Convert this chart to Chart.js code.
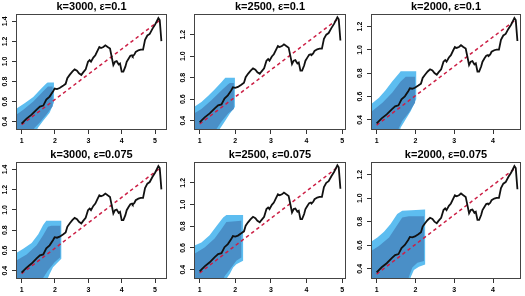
<!DOCTYPE html>
<html>
<head>
<meta charset="utf-8">
<script src="https://cdn.jsdelivr.net/npm/chart.js@4/dist/chart.umd.min.js"></script>
<style>
html,body{margin:0;padding:0;background:#fff;}
body{width:525px;height:296px;position:relative;overflow:hidden;}
.pn{position:absolute;}
</style>
</head>
<body>
<script>
// ---------------- DATA ----------------
const panelTitles = ['k=3000, \u03b5=0.1','k=2500, \u03b5=0.1','k=2000, \u03b5=0.1',
                     'k=3000, \u03b5=0.075','k=2500, \u03b5=0.075','k=2000, \u03b5=0.075'];

const xTicks3000 = [1,2,3,4,5];
const xTicks2500 = [1,2,3,4,5];
const xTicks2000 = [1,2,3,4];
const yTicks3000 = [0.4,0.6,0.8,1.0,1.2,1.4];
const yTicks2500 = [0.4,0.6,0.8,1.0,1.2];
const yTicks2000 = [0.4,0.6,0.8,1.0,1.2];

// black path, k=3000
const k3000X = [1.00,1.15,1.30,1.45,1.55,1.65,1.74,1.84,1.94,1.99,2.06,2.14,2.24,2.32,2.37,2.44,2.52,2.59,2.66,2.72,2.79,2.84,2.92,2.99,3.04,3.08,3.15,3.21,3.28,3.33,3.38,3.45,3.51,3.58,3.65,3.71,3.75,3.80,3.85,3.91,3.95,4.00,4.05,4.11,4.15,4.21,4.26,4.31,4.33,4.38,4.42,4.50,4.57,4.64,4.70,4.77,4.84,4.92,5.00,5.05,5.10,5.14,5.19];
const k3000Y = [0.380,0.430,0.470,0.520,0.550,0.560,0.620,0.650,0.700,0.730,0.725,0.735,0.757,0.777,0.833,0.866,0.898,0.921,0.908,0.882,0.866,0.889,0.921,0.997,1.013,0.997,1.039,1.062,1.111,1.144,1.134,1.144,1.161,1.144,1.128,1.030,0.964,0.997,1.003,0.970,0.980,0.898,0.898,0.948,0.997,1.030,1.056,1.062,1.052,1.069,1.095,1.111,1.118,1.118,1.216,1.259,1.275,1.325,1.367,1.400,1.433,1.413,1.203];
// black path, k=2500
const k2500X = [1.000,1.141,1.283,1.424,1.519,1.613,1.698,1.792,1.887,1.934,2.000,2.075,2.169,2.245,2.292,2.358,2.433,2.499,2.565,2.622,2.688,2.735,2.810,2.876,2.923,2.961,3.027,3.083,3.150,3.197,3.244,3.310,3.366,3.432,3.498,3.555,3.593,3.640,3.687,3.744,3.782,3.829,3.876,3.933,3.970,4.027,4.074,4.121,4.140,4.187,4.225,4.300,4.366,4.432,4.489,4.555,4.621,4.697,4.772,4.819,4.866,4.904,4.951];
const k2500Y = [0.385,0.431,0.468,0.515,0.543,0.552,0.607,0.636,0.682,0.710,0.705,0.714,0.735,0.753,0.805,0.836,0.865,0.887,0.875,0.851,0.836,0.857,0.887,0.958,0.973,0.958,0.997,1.018,1.064,1.094,1.085,1.094,1.110,1.094,1.079,0.989,0.927,0.958,0.963,0.933,0.942,0.866,0.866,0.913,0.958,0.989,1.013,1.018,1.009,1.025,1.049,1.064,1.070,1.070,1.161,1.200,1.215,1.261,1.300,1.331,1.361,1.343,1.146];
// black path, k=2000
const k2000X = [1.000,1.130,1.260,1.390,1.476,1.563,1.641,1.727,1.814,1.857,1.918,1.987,2.074,2.143,2.186,2.247,2.316,2.377,2.438,2.490,2.550,2.594,2.663,2.723,2.767,2.801,2.862,2.914,2.974,3.017,3.061,3.121,3.174,3.234,3.295,3.347,3.382,3.425,3.468,3.520,3.555,3.598,3.641,3.693,3.728,3.780,3.824,3.867,3.884,3.927,3.962,4.031,4.091,4.152,4.204,4.264,4.325,4.394,4.464,4.507,4.550,4.585,4.628];
const k2000Y = [0.370,0.413,0.447,0.490,0.516,0.525,0.576,0.602,0.645,0.671,0.667,0.675,0.694,0.711,0.759,0.787,0.815,0.834,0.823,0.801,0.787,0.807,0.834,0.899,0.913,0.899,0.935,0.955,0.997,1.025,1.017,1.025,1.040,1.025,1.011,0.928,0.871,0.899,0.904,0.876,0.885,0.815,0.815,0.857,0.899,0.928,0.950,0.955,0.947,0.961,0.984,0.997,1.003,1.003,1.087,1.124,1.137,1.180,1.216,1.244,1.273,1.256,1.076];

// red dashed reference lines
const ref3000X = [1.00,5.14], ref3000Y = [0.37,1.41];
const ref2500X = [1.00,4.90], ref2500Y = [0.37,1.35];
const ref2000X = [1.00,4.59], ref2000Y = [0.355,1.26];

// blue regions (outer = light, inner = dark), eps=0.1
const outer3000a_X = [0.75,0.84,1.10,1.35,1.59,1.74,1.78,1.97,1.97,1.84,1.64,1.49,1.40,0.75,0.75];
const outer3000a_Y = [0.50,0.528,0.587,0.646,0.73,0.78,0.79,0.79,0.59,0.49,0.406,0.34,0.28,0.28,0.50];
const inner3000a_X = [0.75,0.84,1.05,1.35,1.64,1.79,1.93,1.93,1.74,1.54,1.39,1.30,0.75,0.75];
const inner3000a_Y = [0.44,0.47,0.52,0.60,0.70,0.75,0.75,0.553,0.47,0.39,0.34,0.28,0.28,0.44];
const outer2500a_X = [0.75,0.84,1.05,1.235,1.42,1.61,1.72,1.99,1.99,1.85,1.70,1.56,1.50,0.75,0.75];
const outer2500a_Y = [0.50,0.528,0.574,0.629,0.69,0.757,0.80,0.80,0.528,0.467,0.39,0.32,0.28,0.28,0.50];
const inner2500a_X = [0.75,0.84,1.05,1.33,1.61,1.80,1.85,1.96,1.96,1.80,1.61,1.47,1.42,0.75,0.75];
const inner2500a_Y = [0.44,0.467,0.51,0.59,0.68,0.74,0.75,0.75,0.51,0.467,0.39,0.32,0.28,0.28,0.44];
const outer2000a_X = [0.75,0.82,1.06,1.23,1.40,1.58,1.62,2.02,2.02,1.88,1.75,1.62,1.58,0.75,0.75];
const outer2000a_Y = [0.50,0.525,0.59,0.655,0.73,0.80,0.817,0.817,0.576,0.477,0.406,0.335,0.28,0.28,0.50];
const inner2000a_X = [0.75,0.82,1.15,1.40,1.62,1.75,1.99,1.99,1.83,1.66,1.58,1.52,0.75,0.75];
const inner2000a_Y = [0.44,0.457,0.547,0.633,0.73,0.77,0.77,0.547,0.46,0.39,0.335,0.28,0.28,0.44];
// eps=0.075
const outer3000b_X = [0.75,0.84,1.05,1.30,1.50,1.645,1.74,2.19,2.19,2.05,1.94,1.84,1.79,1.75,0.75,0.75];
const outer3000b_Y = [0.55,0.573,0.617,0.673,0.76,0.85,0.893,0.893,0.517,0.47,0.433,0.367,0.327,0.28,0.28,0.55];
const inner3000b_X = [0.75,0.84,1.15,1.45,1.645,1.79,1.89,2.16,2.16,1.99,1.79,1.645,1.60,0.75,0.75];
const inner3000b_Y = [0.48,0.50,0.56,0.65,0.75,0.833,0.843,0.843,0.533,0.483,0.40,0.327,0.28,0.28,0.48];
const outer2500b_X = [0.75,0.84,1.05,1.28,1.47,1.66,1.75,2.22,2.22,2.03,1.94,1.845,1.78,1.74,0.75,0.75];
const outer2500b_Y = [0.60,0.62,0.65,0.718,0.80,0.88,0.904,0.904,0.482,0.45,0.42,0.36,0.33,0.28,0.28,0.60];
const inner2500b_X = [0.75,0.84,1.14,1.42,1.61,1.75,2.17,2.17,2.03,1.845,1.70,1.65,0.75,0.75];
const inner2500b_Y = [0.52,0.544,0.605,0.687,0.773,0.84,0.85,0.513,0.482,0.40,0.34,0.28,0.28,0.52];
const outer2000b_X = [0.75,0.82,1.02,1.19,1.36,1.53,1.66,2.25,2.25,2.09,1.96,1.88,1.84,0.75,0.75];
const outer2000b_Y = [0.60,0.623,0.666,0.714,0.78,0.866,0.894,0.903,0.437,0.417,0.39,0.33,0.28,0.28,0.60];
const inner2000b_X = [0.75,0.82,1.06,1.32,1.49,1.66,1.83,2.22,2.22,2.05,1.92,1.83,1.80,0.75,0.75];
const inner2000b_Y = [0.52,0.543,0.594,0.666,0.75,0.837,0.846,0.846,0.466,0.451,0.41,0.33,0.28,0.28,0.52];

// ---------------- LAYOUT / STYLE ----------------
const zip = (xs, ys) => xs.map((x, i) => ({x: x, y: ys[i]}));
const LIGHT = '#5dbdf0', DARK = '#4a8fc7', RED = '#cc1f45', BLACK = '#111111';
const tickFont = {family: 'Liberation Sans, Arial, sans-serif', size: 7, weight: 'bold'};

const cols = [
  {left: 16,  width: 151, xmin: 0.832, xmax: 5.358, ymin: 0.317, ymax: 1.473,
   lx: k3000X, ly: k3000Y, rx: ref3000X, ry: ref3000Y, xt: xTicks3000, yt: yTicks3000},
  {left: 194, width: 152, xmin: 0.842, xmax: 5.108, ymin: 0.314, ymax: 1.392,
   lx: k2500X, ly: k2500Y, rx: ref2500X, ry: ref2500Y, xt: xTicks2500, yt: yTicks2500},
  {left: 371, width: 150, xmin: 0.855, xmax: 4.720, ymin: 0.313, ymax: 1.308,
   lx: k2000X, ly: k2000Y, rx: ref2000X, ry: ref2000Y, xt: xTicks2000, yt: yTicks2000}
];
const rows = [{top: 14, height: 116}, {top: 162, height: 117}];
const bands = [
  [[outer3000a_X, outer3000a_Y, inner3000a_X, inner3000a_Y],
   [outer2500a_X, outer2500a_Y, inner2500a_X, inner2500a_Y],
   [outer2000a_X, outer2000a_Y, inner2000a_X, inner2000a_Y]],
  [[outer3000b_X, outer3000b_Y, inner3000b_X, inner3000b_Y],
   [outer2500b_X, outer2500b_Y, inner2500b_X, inner2500b_Y],
   [outer2000b_X, outer2000b_Y, inner2000b_X, inner2000b_Y]]
];

const boxPlugin = {
  id: 'box',
  afterDatasetsDraw(chart) {
    const {ctx, chartArea: a} = chart;
    ctx.save();
    ctx.strokeStyle = '#444444';
    ctx.lineWidth = 1;
    ctx.strokeRect(Math.round(a.left) + 0.5, Math.round(a.top) + 0.5,
                   Math.round(a.right - a.left) - 1, Math.round(a.bottom - a.top) - 1);
    ctx.restore();
  }
};

const PADL = 16, PADT = 14, PADB = 16, PADR = 4;

rows.forEach((row, r) => {
  cols.forEach((col, c) => {
    const div = document.createElement('div');
    div.className = 'pn';
    const W = col.width + PADL + PADR, H = row.height + PADT + PADB;
    div.style.left = (col.left - PADL) + 'px';
    div.style.top = (row.top - PADT) + 'px';
    div.style.width = W + 'px';
    div.style.height = H + 'px';
    const cv = document.createElement('canvas');
    cv.width = W; cv.height = H;
    cv.style.width = W + 'px'; cv.style.height = H + 'px';
    div.appendChild(cv);
    document.body.appendChild(div);
    const b = bands[r][c];
    new Chart(cv, {
      type: 'line',
      data: {
        datasets: [
          {data: zip(col.lx, col.ly), borderColor: BLACK, borderWidth: 1.8, pointRadius: 0, fill: false, order: 0},
          {data: zip(col.rx, col.ry), borderColor: RED, borderWidth: 1.5, borderDash: [3.5, 3], pointRadius: 0, fill: false, order: 1},
          {data: zip(b[2], b[3]), borderWidth: 0, borderColor: DARK, backgroundColor: DARK, pointRadius: 0, fill: 'shape', order: 2},
          {data: zip(b[0], b[1]), borderWidth: 0, borderColor: LIGHT, backgroundColor: LIGHT, pointRadius: 0, fill: 'shape', order: 3}
        ]
      },
      options: {
        responsive: false, animation: false, devicePixelRatio: 1,
        layout: {padding: {left: 0, right: PADR, top: 0, bottom: 0}},
        elements: {line: {tension: 0}, point: {radius: 0}},
        plugins: {
          legend: {display: false}, tooltip: {enabled: false},
          title: {display: true, text: panelTitles[r * 3 + c], fullSize: false, color: '#000',
                  font: {family: 'Liberation Sans, Arial, sans-serif', size: 11, weight: 'bold', lineHeight: 1.2},
                  padding: {top: 0, bottom: 0.8}}
        },
        scales: {
          x: {
            type: 'linear', min: col.xmin, max: col.xmax,
            afterBuildTicks: s => { s.ticks = col.xt.map(v => ({value: v})); },
            afterFit: s => { s.height = PADB; },
            grid: {drawOnChartArea: false, drawTicks: true, tickLength: 4, color: '#333', lineWidth: 1},
            border: {display: false},
            ticks: {font: tickFont, color: '#000', padding: 3, maxRotation: 0, autoSkip: false,
                    callback: v => String(v)}
          },
          y: {
            type: 'linear', min: col.ymin, max: col.ymax,
            afterBuildTicks: s => { s.ticks = col.yt.map(v => ({value: v})); },
            afterFit: s => { s.width = PADL; },
            grid: {drawOnChartArea: false, drawTicks: true, tickLength: 4, color: '#333', lineWidth: 1},
            border: {display: false},
            ticks: {font: tickFont, color: '#000', padding: 2, minRotation: 90, maxRotation: 90,
                    crossAlign: 'center', autoSkip: false, callback: v => Number(v).toFixed(1)}
          }
        }
      },
      plugins: [boxPlugin]
    });
  });
});
</script>
</body>
</html>
